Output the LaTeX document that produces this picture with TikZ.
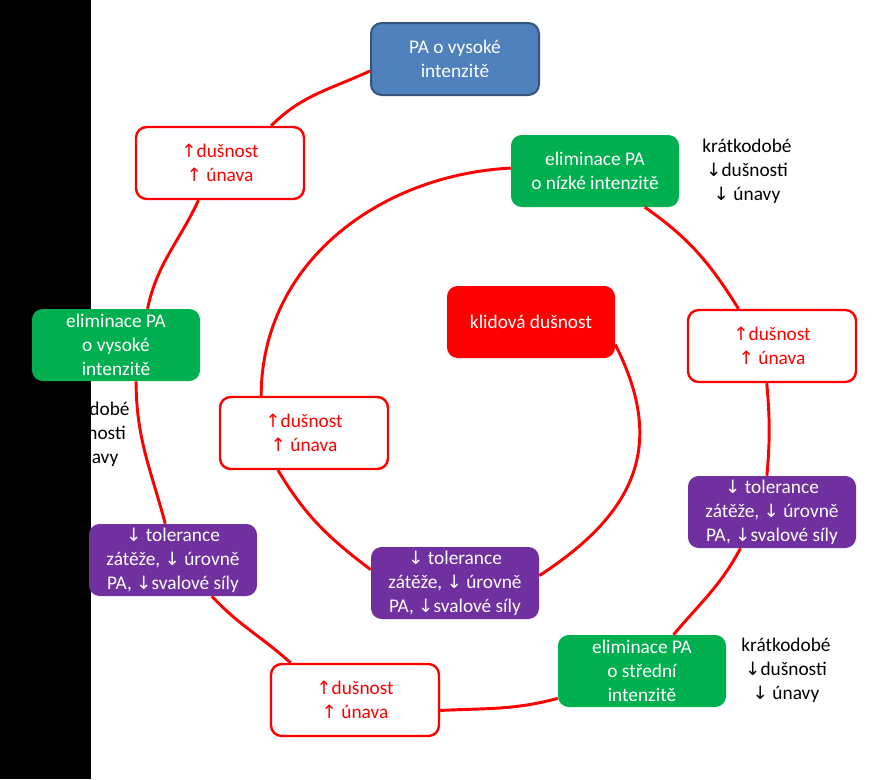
\documentclass[tikz,border=0pt]{standalone}
\usepackage{fontspec}
\setmainfont{Carlito}
\newfontfamily\arrowfont{DejaVu Sans}[Scale=0.95]
\newcommand{\uarr}{{\arrowfont ↑}}
\newcommand{\darr}{{\arrowfont ↓}}

\tikzset{
  box/.style={rounded corners=8pt, minimum width=126pt, minimum height=54pt, align=center, inner sep=1pt, font=\fontsize{14.5}{18}\selectfont},
  risebox/.style={box, draw={rgb, 255:red, 255; green, 0; blue, 0 }, line width=1.8pt, fill=white, text={rgb, 255:red, 255; green, 0; blue, 0 }},
  elimbox/.style={box, fill={rgb, 255:red, 0; green, 176; blue, 80 }, text=white},
  dropbox/.style={box, fill={rgb, 255:red, 112; green, 48; blue, 160 }, text=white},
  loopline/.style={draw={rgb, 255:red, 255; green, 0; blue, 0 }, line width=2.2pt},
  note/.style={align=center, inner sep=0.75pt, font=\fontsize{14.5}{18}\selectfont}
}

\begin{document}
\begin{tikzpicture}[x=0.75pt,y=0.75pt,yscale=-1,xscale=1]
\useasboundingbox (0,0) rectangle (875,779);

% Text Node (half hidden)
\node [note] (kv) at (85,434) {krátkodobé\\\darr dušnosti\\\darr\ únavy};
%Shape: Rectangle
\fill [black] (0,0) rectangle (91,779);

% Boxes
\node [box, fill={rgb, 255:red, 79; green, 129; blue, 189 }, draw={rgb, 255:red, 52; green, 85; blue, 128 }, line width=1.5pt, text=white] (pa) at (455,59) {PA o vysoké\\intenzitě};
\node [risebox] (tdu) at (220,163) {\uarr dušnost\\\uarr\ únava};
\node [elimbox] (gn) at (595,171) {eliminace PA\\o nízké intenzitě};
\node [box, fill={rgb, 255:red, 255; green, 0; blue, 0 }, text=white] (klid) at (531,322) {klidová dušnost};
\node [risebox] (rdu) at (772,346) {\uarr dušnost\\\uarr\ únava};
\node [elimbox] (gl) at (116,345) {eliminace PA\\o vysoké\\intenzitě};
\node [risebox] (idu) at (304,433) {\uarr dušnost\\\uarr\ únava};
\node [dropbox] (pr) at (772,512) {\darr\ tolerance\\zátěže, \darr\ úrovně\\PA, \darr svalové síly};
\node [dropbox] (pl) at (173,560) {\darr\ tolerance\\zátěže, \darr\ úrovně\\PA, \darr svalové síly};
\node [dropbox] (pm) at (455,583) {\darr\ tolerance\\zátěže, \darr\ úrovně\\PA, \darr svalové síly};
\node [elimbox] (gs) at (642,671) {eliminace PA\\o střední\\intenzitě};
\node [risebox] (bdu) at (355,700) {\uarr dušnost\\\uarr\ únava};

% Text Node
\node [note] (kn) at (747,171) {krátkodobé\\\darr dušnosti\\\darr\ únavy};
% Text Node
\node [note] (ks) at (786,670) {krátkodobé\\\darr dušnosti\\\darr\ únavy};

% Spiral
\draw [loopline] (klid.-15) to[out=63, in=-33, looseness=1.2] (pm.5);
\draw [loopline] (pm.171) to[out=-143, in=59] (idu.-125);
\draw [loopline] (idu.139) to[out=-90, in=177] (gn.178);
\draw [loopline] (gn.-36) to[out=35, in=-122] (rdu.132);
\draw [loopline] (rdu.-98) to[out=85, in=-85] (pr.98);
\draw [loopline] (pr.-131) to[out=118, in=-50] (gs.49);
\draw [loopline] (gs.-162) to[out=165, in=-3] (bdu.-7);
\draw [loopline] (bdu.150) to[out=-138, in=47] (pl.-43);
\draw [loopline] (pl.102) to[out=-105, in=90] (gl.-61);
\draw [loopline] (gl.49) to[out=-78, in=115] (tdu.-120);
\draw [loopline] (tdu.36) to[out=-45, in=155] (pa.-172);

\end{tikzpicture}
\end{document}
